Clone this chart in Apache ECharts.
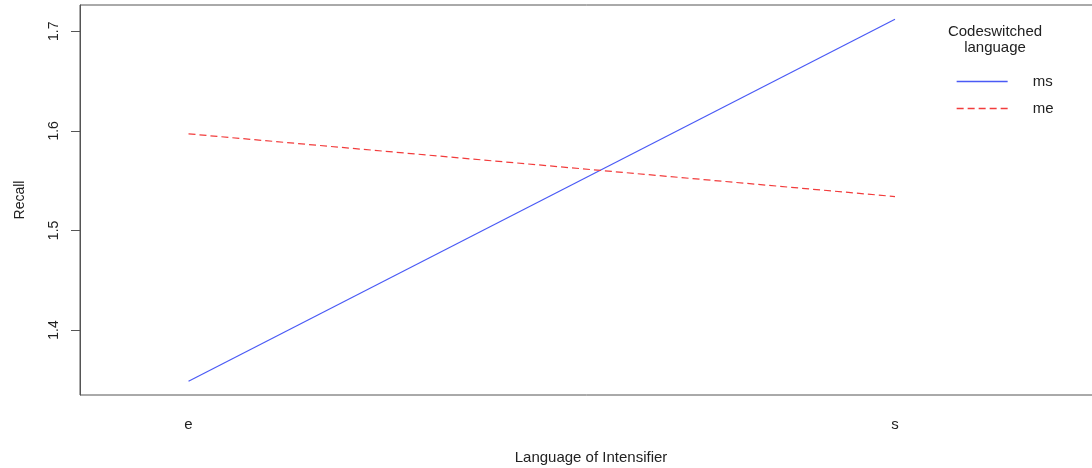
<!DOCTYPE html>
<html>
<head>
<meta charset="utf-8">
<script src="https://cdn.jsdelivr.net/npm/echarts@6/dist/echarts.min.js"></script>
<style>
  html, body { margin: 0; padding: 0; background: #fff; }
  #chart { width: 1092px; height: 468px; }
</style>
</head>
<body>
<div id="chart"></div>
<script>
// 数据
const categories = ['e', 's']
const seriesNames = ['ms', 'me']
const msValues = [1.3485, 1.712]
const meValues = [1.597, 1.534]
const yTicks = [1.4, 1.5, 1.6, 1.7]

const blue = '#4a5af5'
const red = '#f23c3c'

const chart = echarts.init(document.getElementById('chart'))

// 把类别位置 1、2 与数值配对
const toPoints = vals => vals.map((v, i) => [i + 1, v])

const font = 'Liberation Sans, Arial, sans-serif'

const option = {
  animation: false,
  backgroundColor: '#fff',
  textStyle: { fontFamily: font },
  title: {
    text: 'Codeswitched\nlanguage',
    left: 990,
    top: 19,
    textAlign: 'center',
    textStyle: { fontSize: 15, fontWeight: 'normal', color: '#222', lineHeight: 16, fontFamily: font }
  },
  legend: {
    data: [
      { name: seriesNames[0], lineStyle: { color: blue, width: 1.3, type: 'solid' } },
      { name: seriesNames[1], lineStyle: { color: red, width: 1.3, type: [7, 4] } }
    ],
    orient: 'vertical',
    left: 956,
    top: 74,
    padding: 0,
    itemWidth: 51,
    itemHeight: 14,
    itemGap: 12,
    itemStyle: { opacity: 0 },
    textStyle: { fontSize: 15, color: '#222', padding: [0, 0, 0, 20], fontFamily: font }
  },
  grid: {
    left: 80,
    right: -10,
    top: 5,
    bottom: 73,
    outerBoundsMode: 'none',
    show: true,
    borderColor: '#555',
    borderWidth: 1
  },
  xAxis: {
    type: 'value',
    min: 0.8464,
    max: 2.293,
    name: 'Language of Intensifier',
    nameLocation: 'middle',
    nameGap: 55,
    nameTextStyle: { fontSize: 15, color: '#222', fontFamily: font },
    axisLine: { show: false },
    axisTick: { show: false },
    splitLine: { show: false },
    axisLabel: {
      margin: 22,
      fontSize: 15,
      color: '#222',
      customValues: [1, 2],
      formatter: v => categories[Math.round(v) - 1] || ''
    }
  },
  yAxis: {
    type: 'value',
    min: 1.3347,
    max: 1.7264,
    name: 'Recall',
    nameLocation: 'middle',
    nameGap: 53,
    nameRotate: 90,
    nameTextStyle: { fontSize: 14, color: '#222', fontFamily: font },
    axisLine: { show: true, lineStyle: { color: '#555', width: 1 } },
    axisTick: { show: true, length: 9, lineStyle: { color: '#555' }, customValues: yTicks },
    splitLine: { show: false },
    axisLabel: {
      rotate: 90,
      margin: 19,
      fontSize: 14,
      color: '#222',
      customValues: yTicks,
      formatter: v => v.toFixed(1)
    }
  },
  series: [
    {
      name: 'ms',
      type: 'line',
      data: toPoints(msValues),
      symbol: 'none',
      lineStyle: { color: blue, width: 1.2, type: 'solid' },
      itemStyle: { color: blue }
    },
    {
      name: 'me',
      type: 'line',
      data: toPoints(meValues),
      symbol: 'none',
      lineStyle: { color: red, width: 1.2, type: [7, 4] },
      itemStyle: { color: red }
    }
  ]
}

chart.setOption(option)
</script>
</body>
</html>
